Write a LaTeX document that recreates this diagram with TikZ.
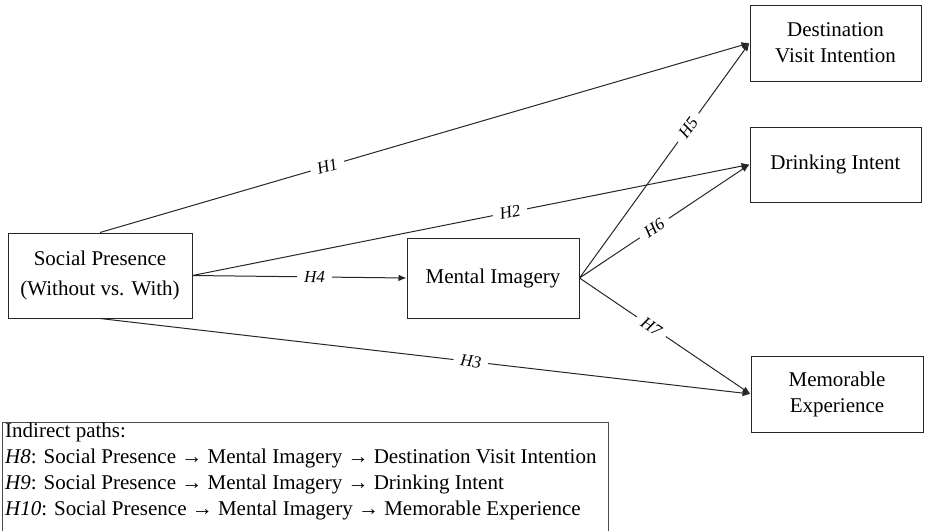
\documentclass[tikz,border=0pt]{standalone}
\usepackage{fontspec}
\setmainfont{Liberation Serif}
\usetikzlibrary{arrows.meta}
\begin{document}
\begin{tikzpicture}[x=1pt,y=-1pt,
  box/.style={draw=black!85,line width=1pt,align=center,inner sep=0pt,
    font=\rmfamily\fontsize{21}{26}\selectfont},
  conn/.style={draw=black!85,line width=1pt,-{Latex[length=8pt,width=6.5pt]}},
  lab/.style={fill=white,inner xsep=7pt,inner ysep=0pt,sloped,
    font=\rmfamily\fontsize{17}{18}\selectfont\itshape},
  txt/.style={anchor=base west,inner sep=0pt,font=\rmfamily\fontsize{21}{26}\selectfont}]
\useasboundingbox (0,0) rectangle (926,530);
\node[box,minimum width=184pt,minimum height=85pt,font=\rmfamily\fontsize{21}{30}\selectfont] (sp) at (100,275.5) {Social Presence\\(Without vs. With)};
\node[box,minimum width=172pt,minimum height=80pt] (mi) at (493,278) {Mental Imagery};
\node[box,minimum width=171pt,minimum height=76pt] (dvi) at (835.5,43) {Destination\\Visit Intention};
\node[box,minimum width=171pt,minimum height=75pt] (di) at (835.5,164.5) {Drinking Intent};
\node[box,minimum width=172pt,minimum height=76pt] (me) at (837,394) {Memorable\\Experience};

\draw[conn] (sp.north) -- node[lab,pos=0.35] {H1} (dvi.west);
\draw[conn] (sp.east) -- node[lab,pos=0.57] {H2} (di.west);
\draw[conn] (sp.east) -- node[lab,pos=0.57] {H4} (mi.west);
\draw[conn] (sp.south) -- node[lab,pos=0.57] {H3} (me.west);
\draw[conn] (mi.east) -- node[lab,pos=0.64] {H5} (dvi.west);
\draw[conn] (mi.east) -- node[lab,pos=0.44] {H6} (di.west);
\draw[conn] (mi.east) -- node[lab,pos=0.42] {H7} (me.west);

\draw[draw=black!70,line width=1pt] (2,535) -- (2,422) -- (608,422) -- (608,535);
\node[txt] (l1) at (5,437) {Indirect paths:};
\node[txt] (l2) at (5,463) {\textit{H8}: Social Presence → Mental Imagery → Destination Visit Intention};
\node[txt] (l3) at (5,489) {\textit{H9}: Social Presence → Mental Imagery → Drinking Intent};
\node[txt] (l4) at (5,515) {\textit{H10}: Social Presence → Mental Imagery → Memorable Experience};
\end{tikzpicture}
\end{document}
